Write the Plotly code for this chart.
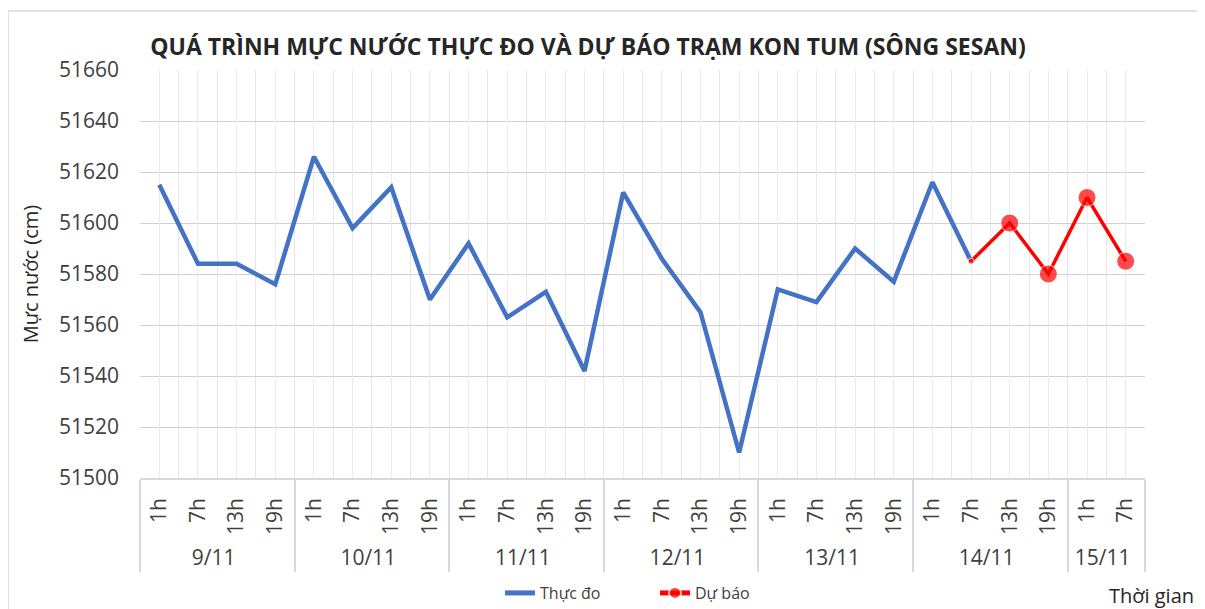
import plotly.graph_objects as go

dates = ["9/11"] * 4 + ["10/11"] * 4 + ["11/11"] * 4 + ["12/11"] * 4 + ["13/11"] * 4 + ["14/11"] * 2
hours = ["1h", "7h", "13h", "19h"] * 5 + ["1h", "7h"]
observed = [51615, 51584, 51584, 51576,
            51626, 51598, 51614, 51570,
            51592, 51563, 51573, 51542,
            51612, 51586, 51565, 51510,
            51574, 51569, 51590, 51577,
            51616, 51585]

fc_dates = ["14/11", "14/11", "14/11", "15/11", "15/11"]
fc_hours = ["7h", "13h", "19h", "1h", "7h"]
forecast = [51585, 51600, 51580, 51610, 51585]

FONT = "Open Sans"
N_CAT = 26
OFF = 8  # page body margin

W, H = 1205 - OFF, 609 - OFF
PL, PR, PT, PB = 140, 1145, 70, 478  # plot area in window pixels


def px(x):
    return (x - PL) / (PR - PL)


def py(y):
    return (PB - y) / (PB - PT)


fig = go.Figure()
# empty helper trace so the overlaid grid axis (centre gridlines) is drawn
fig.add_trace(go.Scatter(x=[], y=[], xaxis="x2", yaxis="y", showlegend=False,
                         hoverinfo="skip", mode="lines"))
fig.add_trace(go.Scatter(
    x=[dates, hours], y=observed, name="Thực đo", mode="lines",
    line=dict(color="#4472C4", width=4.5)))
fig.add_trace(go.Scatter(
    x=[fc_dates, fc_hours], y=forecast, name="Dự báo", mode="lines+markers",
    line=dict(color="#FF0000", width=3.5),
    marker=dict(color="#FF0000", size=[6, 18, 18, 18, 18])))

fig.update_layout(
    width=W, height=H,
    margin=dict(l=PL - OFF, r=1205 - PR, t=PT - OFF, b=609 - PB, autoexpand=False),
    paper_bgcolor="white", plot_bgcolor="white",
    font=dict(family=FONT, color="#404040"),
    title=dict(text="<b>QUÁ TRÌNH MỰC NƯỚC THỰC ĐO VÀ DỰ BÁO TRẠM KON TUM (SÔNG SESAN)</b>",
               x=(588 - OFF) / W, xanchor="center", y=1 - (47 - OFF) / H, yanchor="middle",
               font=dict(size=23, color="#262626", family=FONT)),
    showlegend=True,
    legend=dict(orientation="h", x=px(500), xanchor="left", y=py(593), yanchor="middle",
                font=dict(size=16, color="#404040"), bgcolor="rgba(0,0,0,0)",
                itemsizing="constant", entrywidth=110, entrywidthmode="pixels"),
    xaxis=dict(type="multicategory", range=[-0.5, N_CAT - 0.5], autorange=False,
               showgrid=True, gridcolor="#e6e6e6",
               tickson="boundaries", ticks="", tickangle=-90,
               tickfont=dict(size=21, color="#404040"), ticklabelstandoff=10,
               showline=True, linecolor="#d9d9d9", linewidth=1.5,
               showdividers=True, dividercolor="#d9d9d9", dividerwidth=1.5,
               zeroline=False, automargin=False),
    xaxis2=dict(overlaying="x", anchor="y", type="linear",
                range=[-0.5, N_CAT - 0.5], autorange=False,
                tickmode="linear", tick0=0, dtick=1, showgrid=True, gridcolor="#ececec",
                showticklabels=False, ticks="", zeroline=False, showline=False,
                automargin=False),
    yaxis=dict(range=[51500, 51660], dtick=20, tickformat="d", showgrid=True, gridcolor="#d0d0d0",
               gridwidth=1, ticks="", tickfont=dict(size=21, color="#404040"),
               ticklabelstandoff=20,
               title=dict(text="Mực nước (cm)", font=dict(size=20, color="#262626"), standoff=14),
               zeroline=False, showline=False, automargin=False),
    shapes=[dict(type="rect", xref="paper", yref="paper",
                 x0=px(8), x1=px(1220), y0=py(625), y1=py(11),
                 line=dict(color="#d9d9d9", width=1.5), fillcolor="rgba(0,0,0,0)", layer="below")],
    annotations=[dict(text="Thời gian", xref="paper", yref="paper",
                      x=px(1196), xanchor="right", y=py(595), yanchor="middle",
                      showarrow=False, font=dict(size=20, color="#262626"))],
)

fig.write_html("out.html")
